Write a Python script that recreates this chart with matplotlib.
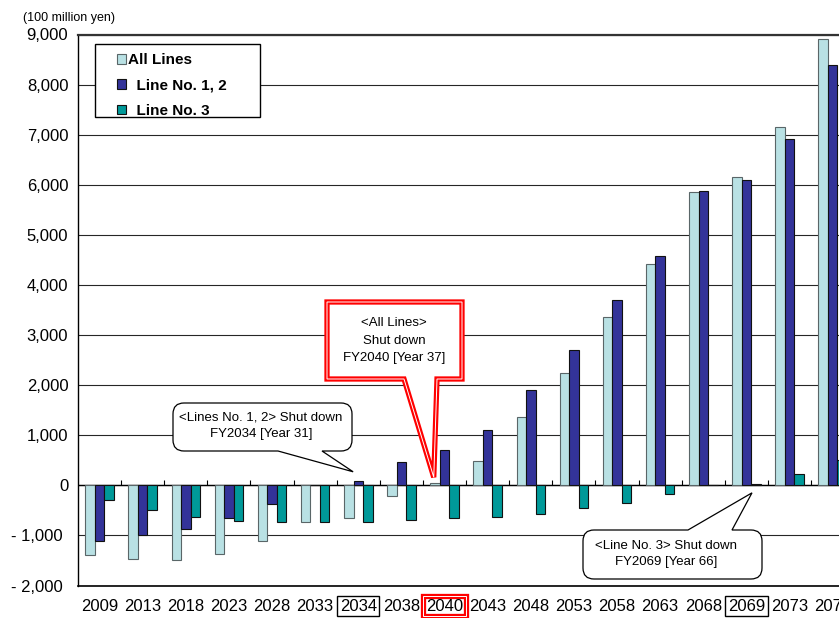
import numpy as np
import matplotlib
matplotlib.use("Agg")
import matplotlib.pyplot as plt
import matplotlib.patheffects as pe
from matplotlib.path import Path
from matplotlib.patches import PathPatch, Rectangle
from matplotlib.transforms import ScaledTranslation

plt.rcParams['font.family'] = ['Liberation Sans', 'DejaVu Sans']

# Fiscal years on the category axis
years = ["2009", "2013", "2018", "2023", "2028", "2033", "2034", "2038", "2040",
         "2043", "2048", "2053", "2058", "2063", "2068", "2069", "2073", "2078"]

# Cumulative balance (100 million yen)
all_lines = [-1400, -1467, -1487, -1367, -1107, -740, -653, -213, 47,
             485, 1356, 2248, 3356, 4412, 5853, 6147, 7147, 8913]
line_12 = [-1107, -987, -867, -647, -373, 0, 80, 470, 700,
           1095, 1911, 2695, 3705, 4576, 5873, 6100, 6920, 8393]
line_3 = [-293, -487, -627, -713, -740, -740, -740, -700, -647,
          -633, -567, -447, -347, -173, 0, 33, 220, 513]

series_names = ["All Lines", "  Line No. 1, 2", "  Line No. 3"]

# Shutdown years highlighted on the axis
highlight_years = {"2034": "black", "2040": "red", "2069": "black"}

W, H = 839, 618
fig = plt.figure(figsize=(W / 100, H / 100), dpi=100)

ax_l, ax_r, ax_t, ax_b = 78, 854.2, 34.5, 585.5
ax = fig.add_axes([ax_l / W, 1 - ax_b / H, (ax_r - ax_l) / W, (ax_b - ax_t) / H])

x = np.arange(len(years))
bw = 0.22
b_all = ax.bar(x - bw, all_lines, bw, color='#B9E1E4', edgecolor='#5a6668', lw=0.8, zorder=3)
b_12 = ax.bar(x, line_12, bw, color='#333399', edgecolor='#111111', lw=0.8, zorder=3)
b_3 = ax.bar(x + bw, line_3, bw, color='#009999', edgecolor='#111111', lw=0.8, zorder=3)

ax.set_xlim(-0.5, len(years) - 0.5)
ax.set_ylim(-2000, 9000)

yt = np.arange(-2000, 9001, 1000)
ax.set_yticks(yt)
ax.set_yticklabels([f"{v:,}" if v >= 0 else f"- {-v:,}" for v in yt], fontsize=12)
ax.yaxis.grid(True, color='#262626', lw=0.8, zorder=0)
ax.set_axisbelow(True)

ax.set_xticks(x)
ax.set_xticklabels(years, fontsize=12)
ax.tick_params(axis='x', length=0, pad=9.5)
ax.tick_params(axis='y', length=0, pad=7)

# negative values are set slightly left of the positive ones
for v, lab in zip(yt, ax.get_yticklabels()):
    if v < 0:
        lab.set_transform(lab.get_transform() +
                          ScaledTranslation(-6 / 100, 0, fig.dpi_scale_trans))

# zero line with category separators
ax.axhline(0, color='black', lw=1, zorder=2.5)
ax.vlines(np.arange(0.5, len(years) - 0.5, 1), 0, 100, color='black', lw=0.8, zorder=2.5)

ax.spines['right'].set_visible(False)
ax.spines['left'].set_color('black')
ax.spines['left'].set_linewidth(1)
ax.spines['bottom'].set_color('black')
ax.spines['bottom'].set_linewidth(1.2)
ax.spines['top'].set_color('#333333')
ax.spines['top'].set_linewidth(1.6)

for lab in ax.get_xticklabels():
    c = highlight_years.get(lab.get_text())
    if c == 'black':
        lab.set_bbox(dict(boxstyle='square,pad=0.15', fc='none', ec='black', lw=1))
    elif c == 'red':
        lab.set_bbox(dict(boxstyle='square,pad=0.15', fc='none', ec='white', lw=0.7))
        lab.get_bbox_patch().set_path_effects(
            [pe.Stroke(linewidth=3.8, foreground='red'), pe.Normal()])

fig.text(22.7 / W, 1 - 18 / H, "(100 million yen)", fontsize=9, va='center', ha='left')

# overlay in pixel coordinates for callouts and legend
axo = fig.add_axes([0, 0, 1, 1], zorder=10)
axo.set_xlim(0, W)
axo.set_ylim(H, 0)
axo.axis('off')
axo.patch.set_alpha(0)


def to_px(xd, yd):
    dx, dy = ax.transData.transform((xd, yd))
    return dx, H - dy


def callout_path(box, base, tip, side, r):
    x0, y0, x1, y1 = box
    bx0, bx1 = base
    tx, ty = tip
    verts, codes = [], []

    def move(p):
        verts.append(p); codes.append(Path.MOVETO)

    def line(p):
        verts.append(p); codes.append(Path.LINETO)

    def curve(c, p):
        verts.extend([c, p]); codes.extend([Path.CURVE3, Path.CURVE3])

    move((x0 + r, y0))
    if side == 'top':
        line((bx0, y0)); line((tx, ty)); line((bx1, y0))
    line((x1 - r, y0))
    if r:
        curve((x1, y0), (x1, y0 + r))
    line((x1, y1 - r))
    if r:
        curve((x1, y1), (x1 - r, y1))
    if side == 'bottom':
        line((bx1, y1)); line((tx, ty)); line((bx0, y1))
    line((x0 + r, y1))
    if r:
        curve((x0, y1), (x0, y1 - r))
    line((x0, y0 + r))
    if r:
        curve((x0, y0), (x0 + r, y0))
    verts.append((x0 + r, y0)); codes.append(Path.CLOSEPOLY)
    return Path(verts, codes)


callouts = [
    dict(box=(327, 302, 462, 379), base=(404, 437), tip=(7.75, 160), side='bottom', r=0,
         red=True, lines=[("<All Lines>", 394, 323), ("Shut down", 394, 341),
                          ("FY2040 [Year 37]", 394, 358)]),
    dict(box=(173, 403, 352, 451), base=(278, 322), tip=(5.88, 270), side='bottom', r=11,
         red=False, lines=[("<Lines No. 1, 2> Shut down", 261, 417),
                           ("FY2034 [Year 31]", 261, 434)]),
    dict(box=(583, 530, 762, 579), base=(688, 732), tip=(15.13, -150), side='top', r=11,
         red=False, lines=[("<Line No. 3> Shut down", 666, 546),
                           ("FY2069 [Year 66]", 666, 562)]),
]

for c in callouts:
    tip = to_px(*c['tip'])
    path = callout_path(c['box'], c['base'], tip, c['side'], c['r'])
    if c['red']:
        axo.add_patch(PathPatch(path, fc='white', ec='none', zorder=3))
        pp = PathPatch(path, fc='none', ec='white', lw=0.7, zorder=4, joinstyle='miter')
        pp.set_path_effects([pe.Stroke(linewidth=3.8, foreground='red'), pe.Normal()])
        axo.add_patch(pp)
    else:
        axo.add_patch(PathPatch(path, fc='white', ec='black', lw=0.9, zorder=3,
                                joinstyle='miter'))
    for txt, tx, ty in c['lines']:
        axo.text(tx, ty, txt, ha='center', va='center', fontsize=9.5, zorder=5)

# legend
axo.add_patch(Rectangle((95, 44), 165, 73, fc='white', ec='black', lw=1, zorder=2))
axo.legend([b_all, b_12, b_3], series_names, loc='upper left',
           bbox_to_anchor=(109 / W, 1 - 45.5 / H), bbox_transform=fig.transFigure,
           frameon=False, borderpad=0, handlelength=0.6, handleheight=0.6,
           handletextpad=0.15, labelspacing=0.74,
           prop={'weight': 'bold', 'size': 11})

fig.savefig("out.png", dpi=100)
